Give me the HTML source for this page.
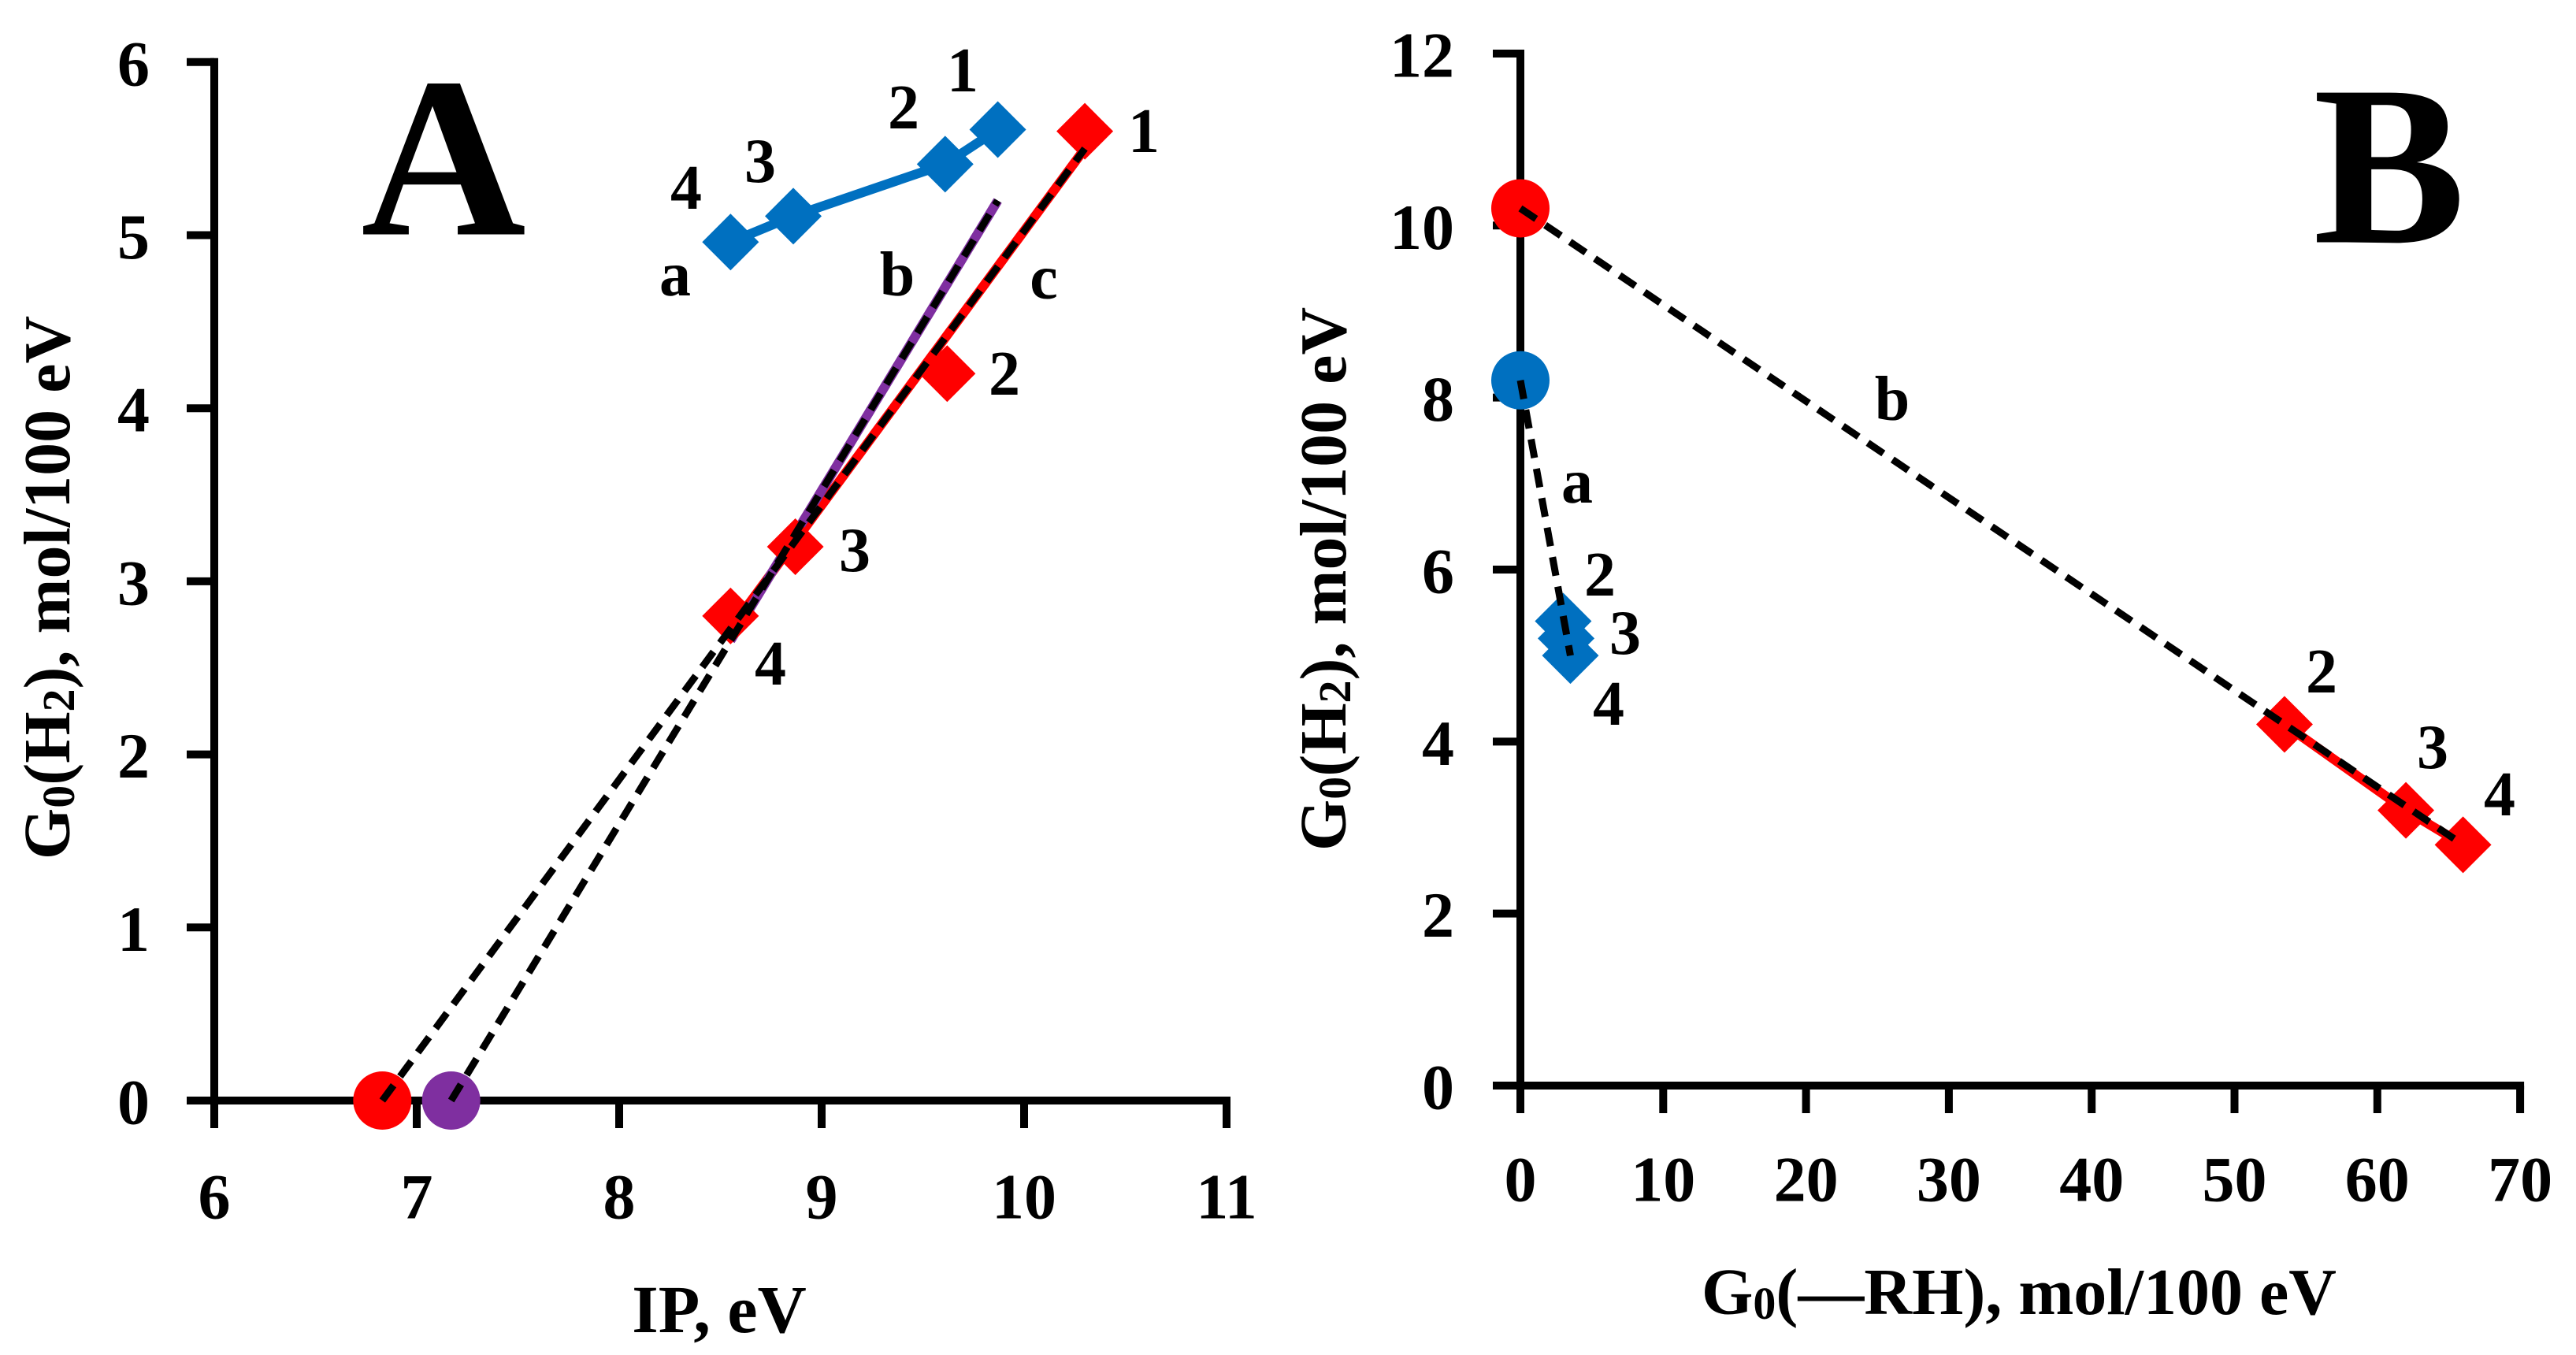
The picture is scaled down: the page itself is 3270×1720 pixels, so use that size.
<!DOCTYPE html>
<html><head><meta charset="utf-8"><style>
html,body{margin:0;padding:0;background:#fff;}
svg{display:block;}
text{font-family:"Liberation Serif",serif;font-weight:bold;fill:#000;}
</style></head><body>
<svg id="chart" width="3270" height="1720" viewBox="0 0 3270 1720" xmlns="http://www.w3.org/2000/svg">
<g id="pA"></g>
<g id="pB"></g>
</svg>
<script>
// Panel A data
const aTicksX = [6,7,8,9,10,11];
const aTicksY = [0,1,2,3,4,5,6];
const aBlueX = [8.55,8.86,9.61,9.87];
const aBlueY = [4.96,5.11,5.41,5.61];
const aBlueLabels = ["4","3","2","1"];
const aRedX = [10.3,9.62,8.87,8.55];
const aRedY = [5.6,4.2,3.2,2.8];
const aRedLabels = ["1","2","3","4"];
const aRedCircle = [6.83,0];
const aPurpleCircle = [7.17,0];
const aRedFitEnd = [10.3,5.5];
const aPurpleFitEnd = [9.87,5.2];
const aFitStartX = 8.55;
// Panel B data
const bTicksX = [0,10,20,30,40,50,60,70];
const bTicksY = [0,2,4,6,8,10,12];
const bBlueX = [3.0,3.2,3.5];
const bBlueY = [5.4,5.2,5.0];
const bBlueLabels = ["2","3","4"];
const bRedX = [53.5,62,66];
const bRedY = [4.2,3.2,2.8];
const bRedLabels = ["2","3","4"];
const bRedCircle = [0,10.2];
const bBlueCircle = [0,8.2];

const NS="http://www.w3.org/2000/svg";
function mk(parent,tag,attrs,txt){const e=document.createElementNS(NS,tag);for(const k in attrs)e.setAttribute(k,attrs[k]);if(txt!==undefined)e.textContent=txt;parent.appendChild(e);return e;}

const ax=v=>272+(v-6)*257, ay=v=>1397-v*219.7;
const bx=v=>1930+v*18.13, by=v=>1378-v*109.17;

function diamond(g,x,y,col,name){
  const r=36;
  const p=mk(g,'polygon',{points:`${x},${y-r} ${x+r},${y} ${x},${y+r} ${x-r},${y}`,fill:col});
  
  
}
function circ(g,x,y,col,name){
  const c=mk(g,'circle',{cx:x,cy:y,r:37,fill:col});
  
  
}
function line(g,x1,y1,x2,y2,col,w,dash,name){
  const l=mk(g,'line',{x1,y1,x2,y2,stroke:col,'stroke-width':w});
  if(dash)l.setAttribute('stroke-dasharray',dash);
  
  
}
function poly(g,xs,ys,col,name){
  const l=mk(g,'polyline',{points:xs.map((x,i)=>x+','+ys[i]).join(' '),fill:'none',stroke:col,'stroke-width':12,'stroke-linejoin':'round'});
  
  
}
function txt(g,x,y,s,size,name,anchor){
  const t=mk(g,'text',{x,y,'font-size':size,'text-anchor':anchor||'middle','dominant-baseline':'central'},s);
  
  
  return t;
}

// ---------- Panel A ----------
const A=document.getElementById('pA');
line(A,ax(6),ay(6)-5,ax(6),ay(0)+35,'#000',10,null,'a-y-axis');
line(A,ax(6)-35,ay(0),ax(11)+5,ay(0),'#000',10,null,'a-x-axis');
aTicksY.forEach(v=>{line(A,ax(6)-35,ay(v),ax(6),ay(v),'#000',10,null,'a-y-tick');
  txt(A,190,ay(v)+2,String(v),82,'a-y-tick-label','end');});
aTicksX.forEach(v=>{line(A,ax(v),ay(0),ax(v),ay(0)+35,'#000',10,null,'a-x-tick');
  txt(A,ax(v),1519,String(v),82,'a-x-tick-label');});
line(A,ax(aFitStartX),ay(aRedCircle[1]+(aRedFitEnd[1]-aRedCircle[1])*(aFitStartX-aRedCircle[0])/(aRedFitEnd[0]-aRedCircle[0])),ax(aRedFitEnd[0]),ay(aRedFitEnd[1]),'#ff0000',12,null,'a-red-fit-line');
line(A,ax(aFitStartX),ay(aPurpleCircle[1]+(aPurpleFitEnd[1]-aPurpleCircle[1])*(aFitStartX-aPurpleCircle[0])/(aPurpleFitEnd[0]-aPurpleCircle[0])),ax(aPurpleFitEnd[0]),ay(aPurpleFitEnd[1]),'#7f2fa0',12,null,'a-purple-fit-line');
poly(A,aBlueX.map(ax),aBlueY.map(ay),'#0070c0','a-series-a-line');
aBlueX.forEach((v,i)=>diamond(A,ax(v),ay(aBlueY[i]),'#0070c0','a-series-a-point'));
aRedX.forEach((v,i)=>diamond(A,ax(v),ay(aRedY[i]),'#ff0000','a-series-c-point'));
circ(A,ax(aRedCircle[0]),ay(aRedCircle[1]),'#ff0000','a-red-intercept');
circ(A,ax(aPurpleCircle[0]),ay(aPurpleCircle[1]),'#7f2fa0','a-purple-intercept');
line(A,ax(aRedCircle[0]),ay(aRedCircle[1]),ax(aRedFitEnd[0]),ay(aRedFitEnd[1]),'#000',9,'24 14','a-red-extrapolation');
line(A,ax(aPurpleCircle[0]),ay(aPurpleCircle[1]),ax(aPurpleFitEnd[0]),ay(aPurpleFitEnd[1]),'#000',9,'24 14','a-purple-extrapolation');
const aBlueLP=[[871,239],[965,205],[1147,137],[1222,90]];
aBlueLabels.forEach((s,i)=>txt(A,aBlueLP[i][0],aBlueLP[i][1],s,80,'a-blue-point-label'));
const aRedLP=[[1452,167],[1275,475],[1085,699],[978,843]];
aRedLabels.forEach((s,i)=>txt(A,aRedLP[i][0],aRedLP[i][1],s,80,'a-red-point-label'));
txt(A,857,349,'a',80,'a-series-label-a');
txt(A,1139,349,'b',80,'a-series-label-b');
txt(A,1325,353,'c',80,'a-series-label-c');
txt(A,563,200,'A',290,'panel-a-letter');
txt(A,913,1662,'IP, eV',86,'a-x-axis-title');
const ayt=mk(A,'text',{x:0,y:0,'font-size':84,'text-anchor':'middle','dominant-baseline':'central',transform:'translate(60,746) rotate(-90)',fill:'#2a1a1a'});


ayt.innerHTML='G<tspan font-size="58" dy="14">0</tspan><tspan dy="-14">(H</tspan><tspan font-size="58" dy="14">2</tspan><tspan dy="-14">), mol/100 eV</tspan>';

// ---------- Panel B ----------
const B=document.getElementById('pB');
line(B,bx(0),by(12)-5,bx(0),by(0)+35,'#000',10,null,'b-y-axis');
line(B,bx(0)-35,by(0),bx(70)+5,by(0),'#000',10,null,'b-x-axis');
bTicksY.forEach(v=>{line(B,bx(0)-35,by(v),bx(0),by(v),'#000',10,null,'b-y-tick');
  txt(B,1846,by(v)+2,String(v),82,'b-y-tick-label','end');});
bTicksX.forEach(v=>{line(B,bx(v),by(0),bx(v),by(0)+35,'#000',10,null,'b-x-tick');
  txt(B,bx(v),1497,String(v),82,'b-x-tick-label');});
poly(B,bRedX.map(bx),bRedY.map(by),'#ff0000','b-red-line');
poly(B,bBlueX.map(bx),bBlueY.map(by),'#0070c0','b-blue-line');
bBlueX.forEach((v,i)=>diamond(B,bx(v),by(bBlueY[i]),'#0070c0','b-blue-point'));
bRedX.forEach((v,i)=>diamond(B,bx(v),by(bRedY[i]),'#ff0000','b-red-point'));
circ(B,bx(bRedCircle[0]),by(bRedCircle[1]),'#ff0000','b-red-intercept');
circ(B,bx(bBlueCircle[0]),by(bBlueCircle[1]),'#0070c0','b-blue-intercept');
line(B,bx(bBlueCircle[0]),by(bBlueCircle[1]),bx(bBlueX[2]),by(bBlueY[2]),'#000',9,'24 14','b-dashed-line-a');
line(B,bx(bRedCircle[0]),by(bRedCircle[1]),bx(bRedX[2]),by(bRedY[2]),'#000',9,'24 14','b-dashed-line-b');
const bBlueLP=[[2031,730],[2063,804],[2042,894]];
bBlueLabels.forEach((s,i)=>txt(B,bBlueLP[i][0],bBlueLP[i][1],s,80,'b-blue-point-label'));
const bRedLP=[[2947,853],[3088,949],[3173,1009]];
bRedLabels.forEach((s,i)=>txt(B,bRedLP[i][0],bRedLP[i][1],s,80,'b-red-point-label'));
txt(B,2002,612,'a',80,'b-series-label-a');
txt(B,2402,507,'b',80,'b-series-label-b');
txt(B,3033,210,'B',290,'panel-b-letter');
const bxt=mk(B,'text',{x:2563,y:1640,'font-size':84,'text-anchor':'middle','dominant-baseline':'central',fill:'#2a1a1a'});


bxt.innerHTML='G<tspan font-size="58" dy="14">0</tspan><tspan dy="-14">(—RH), mol/100 eV</tspan>';
const byt=mk(B,'text',{x:0,y:0,'font-size':84,'text-anchor':'middle','dominant-baseline':'central',transform:'translate(1680,735) rotate(-90)',fill:'#2a1a1a'});


byt.innerHTML='G<tspan font-size="58" dy="14">0</tspan><tspan dy="-14">(H</tspan><tspan font-size="58" dy="14">2</tspan><tspan dy="-14">), mol/100 eV</tspan>';
</script>
</body></html>
